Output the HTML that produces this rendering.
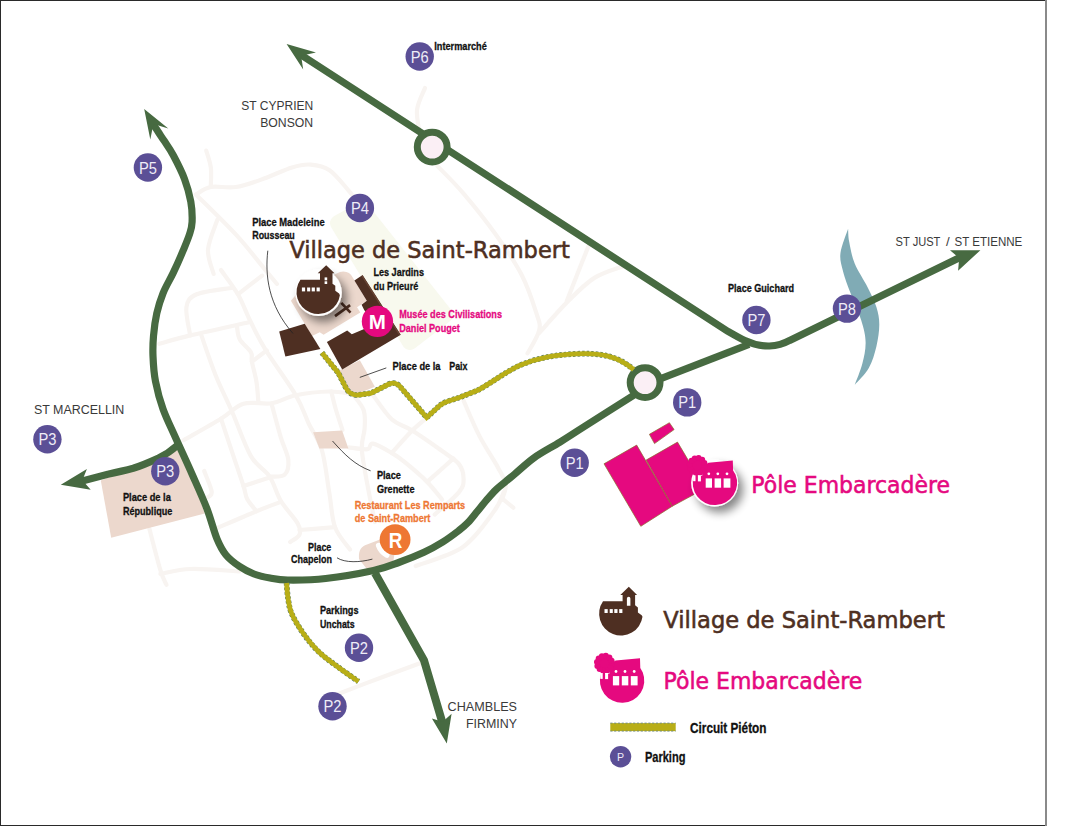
<!DOCTYPE html>
<html lang="fr"><head><meta charset="utf-8"><title>Plan Saint-Rambert</title>
<style>
html,body{margin:0;padding:0;background:#fff;}
svg{display:block;}
text{font-family:"Liberation Sans",sans-serif;}
.cb{font-weight:bold;stroke-width:0.3px;}
.lt{}
.hw{font-family:"DejaVu Sans","Liberation Sans",sans-serif;stroke-width:0.55px;}
.pl{fill:#efecf7;font-size:17px;text-anchor:middle;}
</style></head><body>
<svg width="1070" height="826" viewBox="0 0 1070 826">
<rect x="0" y="0" width="1070" height="826" fill="#fff"/>
<polygon points="338,223 362,210 445,315 410,342" fill="#f8f9ee" stroke="#f8f9ee" stroke-width="16" stroke-linejoin="round"/>
<path d="M206.2,150.6 C207.0,153.4 210.0,161.5 210.8,167.4 C211.6,173.3 210.8,183.0 210.8,186.1" fill="none" stroke="#f8f4f1" stroke-width="4.2" stroke-linecap="round"/>
<path d="M195.9,194.5 C198.4,193.2 204.1,188.2 210.8,187.0 C217.5,185.8 227.1,188.4 236.0,187.0 C244.9,185.6 254.7,181.9 264.0,178.6 C273.3,175.3 284.2,169.7 292.0,167.4 C299.8,165.1 304.6,164.1 310.8,164.6 C317.1,165.1 323.3,166.0 329.5,170.2 C335.7,174.4 343.6,184.8 348.0,189.8 C352.4,194.8 354.7,198.3 356.0,200.0" fill="none" stroke="#f8f4f1" stroke-width="4.2" stroke-linecap="round"/>
<path d="M195.9,194.5 C202.6,201.2 224.7,222.4 236.0,234.7 C247.3,247.0 257.2,260.1 264.0,268.3 C270.8,276.5 274.8,281.4 277.0,284.0" fill="none" stroke="#f8f4f1" stroke-width="4.2" stroke-linecap="round"/>
<path d="M217.4,219.7 C215.8,224.7 208.6,240.6 208.0,249.6 C207.4,258.6 212.7,269.8 213.6,273.9" fill="none" stroke="#f8f4f1" stroke-width="4.2" stroke-linecap="round"/>
<path d="M221.0,270.0 C223.8,274.1 232.9,285.6 237.9,294.3 C242.9,303.0 246.2,313.0 250.9,322.3 C255.6,331.6 258.4,338.2 265.9,350.4 C273.4,362.5 288.6,382.9 295.8,395.2 C303.0,407.5 304.5,414.8 308.9,424.0 C313.3,433.2 318.6,438.9 322.0,450.5 C325.4,462.1 327.2,480.7 329.4,493.5 C331.6,506.3 331.6,517.8 335.0,527.1 C338.4,536.4 347.5,545.8 350.0,549.5" fill="none" stroke="#f8f4f1" stroke-width="4.2" stroke-linecap="round"/>
<path d="M237.9,294.3 C241.9,291.2 258.1,278.7 262.1,275.6" fill="none" stroke="#f8f4f1" stroke-width="4.2" stroke-linecap="round"/>
<path d="M232.2,287.8 C226.3,288.9 204.3,291.0 196.7,294.3 C189.1,297.6 187.5,300.5 186.4,307.4 C185.3,314.2 189.6,330.7 190.2,335.4" fill="none" stroke="#f8f4f1" stroke-width="4.2" stroke-linecap="round"/>
<path d="M159.3,343.8 C164.5,342.4 175.2,339.0 190.2,335.4 C205.2,331.8 239.3,324.5 249.1,322.3" fill="none" stroke="#f8f4f1" stroke-width="4.2" stroke-linecap="round"/>
<path d="M201.4,335.4 C203.7,341.9 210.3,361.9 215.4,374.7 C220.5,387.5 226.3,398.4 232.2,412.0 C238.1,425.6 244.7,445.3 250.9,456.1 C257.1,466.9 264.6,469.1 269.6,476.6 C274.6,484.1 276.1,493.1 280.8,500.9 C285.5,508.7 294.6,517.8 297.7,523.4 C300.8,529.0 300.8,531.5 299.5,534.6 C298.2,537.7 291.8,540.8 290.2,542.0" fill="none" stroke="#f8f4f1" stroke-width="4.2" stroke-linecap="round"/>
<path d="M236.9,326.1 C237.4,328.3 237.4,334.9 239.7,339.2 C242.0,343.5 248.9,348.5 250.9,352.2 C252.9,355.9 251.0,356.6 251.9,361.6 C252.8,366.6 255.4,375.2 256.5,382.1 C257.6,389.0 258.1,399.3 258.4,402.7" fill="none" stroke="#f8f4f1" stroke-width="4.2" stroke-linecap="round"/>
<path d="M251.9,361.6 C254.4,359.7 264.3,352.3 266.8,350.4" fill="none" stroke="#f8f4f1" stroke-width="4.2" stroke-linecap="round"/>
<path d="M183.6,440.2 C189.8,436.6 211.0,424.8 221.0,418.7 C231.0,412.6 235.1,406.3 243.5,403.7 C251.9,401.1 262.8,404.7 271.5,403.3 C280.2,401.9 286.2,397.2 295.8,395.2 C305.4,393.2 320.0,391.7 329.4,391.5 C338.8,391.3 348.6,393.6 352.4,394.0" fill="none" stroke="#f8f4f1" stroke-width="4.2" stroke-linecap="round"/>
<path d="M271.5,403.7 C273.1,409.3 278.0,428.0 280.8,437.4 C283.6,446.8 287.7,453.6 288.3,459.8 C288.9,466.0 287.7,472.0 284.6,474.8 C281.5,477.6 272.1,476.3 269.6,476.6" fill="none" stroke="#f8f4f1" stroke-width="4.2" stroke-linecap="round"/>
<path d="M221.0,418.7 C222.9,424.3 228.4,441.1 232.2,452.3 C235.9,463.5 241.0,478.2 243.5,486.0 C246.0,493.8 245.0,494.8 247.2,499.0 C249.4,503.2 254.9,509.2 256.5,511.2" fill="none" stroke="#f8f4f1" stroke-width="4.2" stroke-linecap="round"/>
<path d="M243.5,486.0 C247.8,484.6 265.2,479.0 269.6,477.6" fill="none" stroke="#f8f4f1" stroke-width="4.2" stroke-linecap="round"/>
<path d="M217.3,528.0 C223.8,525.2 245.9,515.5 256.5,511.2 C267.1,506.8 276.8,503.4 280.8,501.9" fill="none" stroke="#f8f4f1" stroke-width="4.2" stroke-linecap="round"/>
<path d="M204.2,471.0 C205.4,474.4 211.1,487.2 211.7,491.6 C212.3,496.0 208.6,496.3 208.0,497.2" fill="none" stroke="#f8f4f1" stroke-width="4.2" stroke-linecap="round"/>
<path d="M331.3,391.5 C332.1,394.6 334.1,403.6 336.0,410.0 C337.9,416.4 341.4,426.7 342.5,430.0" fill="none" stroke="#f8f4f1" stroke-width="4.2" stroke-linecap="round"/>
<path d="M299.5,530.0 C305.4,529.5 329.1,527.6 335.0,527.1" fill="none" stroke="#f8f4f1" stroke-width="4.2" stroke-linecap="round"/>
<path d="M352.4,394.0 C354.3,396.7 361.6,404.2 363.6,410.0 C365.6,415.8 364.9,422.1 364.6,428.6 C364.3,435.1 361.3,439.9 361.8,449.2 C362.3,458.5 365.2,472.6 367.4,484.7 C369.6,496.8 373.6,515.8 374.9,522.0" fill="none" stroke="#f8f4f1" stroke-width="4.2" stroke-linecap="round"/>
<path d="M373.0,395.0 C376.1,399.1 385.2,413.4 391.7,419.3 C398.2,425.2 403.8,425.2 412.2,430.5 C420.6,435.8 434.3,445.4 442.1,451.0 C449.9,456.6 455.4,459.4 459.0,464.1 C462.6,468.8 463.6,474.4 463.6,479.1 C463.6,483.8 463.8,486.2 459.0,492.1 C454.2,498.0 438.8,510.9 434.7,514.6" fill="none" stroke="#f8f4f1" stroke-width="4.2" stroke-linecap="round"/>
<path d="M427.2,417.4 C424.7,419.6 418.1,424.6 412.2,430.5 C406.3,436.4 395.1,449.2 391.7,452.9" fill="none" stroke="#f8f4f1" stroke-width="4.2" stroke-linecap="round"/>
<path d="M348.7,447.3 C351.8,447.6 363.3,449.8 367.4,449.2 C371.4,448.6 368.9,443.0 373.0,443.6 C377.1,444.2 386.4,449.8 391.7,452.9 C397.0,456.0 398.9,457.4 404.8,462.2 C410.7,467.0 421.0,475.7 427.2,481.9 C433.4,488.1 439.6,496.7 442.1,499.6" fill="none" stroke="#f8f4f1" stroke-width="4.2" stroke-linecap="round"/>
<path d="M427.2,481.9 C431.6,478.0 449.0,462.4 453.4,458.5" fill="none" stroke="#f8f4f1" stroke-width="4.2" stroke-linecap="round"/>
<path d="M463.6,400.6 C466.2,406.5 473.7,424.9 479.5,436.1 C485.3,447.3 493.8,459.8 498.2,467.9 C502.6,476.0 505.1,479.4 505.7,484.7 C506.3,490.0 502.6,497.1 502.0,499.6" fill="none" stroke="#f8f4f1" stroke-width="4.2" stroke-linecap="round"/>
<path d="M503.8,499.8 C505.4,501.1 511.7,506.4 513.3,507.7" fill="none" stroke="#f8f4f1" stroke-width="4.2" stroke-linecap="round"/>
<path d="M415.7,566.0 C423.6,562.8 449.8,556.2 462.9,547.0 C476.0,537.8 487.6,520.0 494.4,510.8 C501.2,501.6 502.2,495.0 503.8,491.9" fill="none" stroke="#f8f4f1" stroke-width="4.2" stroke-linecap="round"/>
<path d="M149.4,528.9 C151.2,535.8 157.6,560.9 160.4,570.2 C163.2,579.5 165.5,582.4 166.5,584.8" fill="none" stroke="#f8f4f1" stroke-width="4.2" stroke-linecap="round"/>
<path d="M160.4,573.8 C165.5,573.0 177.6,569.4 190.8,569.0 C204.0,568.6 231.3,571.0 239.4,571.4" fill="none" stroke="#f8f4f1" stroke-width="4.2" stroke-linecap="round"/>
<path d="M425.0,88.0 C423.7,91.7 417.8,102.2 417.0,110.0 C416.2,117.8 419.5,130.8 420.0,135.0" fill="none" stroke="#f8f4f1" stroke-width="4.2" stroke-linecap="round"/>
<path d="M437.4,166.0 C441.8,170.6 453.9,182.2 463.6,193.6 C473.3,205.0 485.9,220.7 495.6,234.3 C505.3,247.9 514.9,261.9 521.7,275.0 C528.5,288.1 533.3,303.5 536.2,312.7 C539.1,321.9 540.7,323.4 539.2,330.2 C537.8,337.0 529.5,349.5 527.5,353.4" fill="none" stroke="#f8f4f1" stroke-width="4.2" stroke-linecap="round"/>
<path d="M539.2,333.0 C544.0,327.7 559.0,310.3 568.2,301.1 C577.4,291.9 585.2,283.7 594.4,277.9 C603.6,272.1 618.6,268.1 623.4,266.2" fill="none" stroke="#f8f4f1" stroke-width="4.2" stroke-linecap="round"/>
<path d="M566.8,301.1 C568.5,296.8 573.4,284.2 577.0,275.0 C580.6,265.8 586.7,250.8 588.6,245.9" fill="none" stroke="#f8f4f1" stroke-width="4.2" stroke-linecap="round"/>
<path d="M338.0,694.0 C345.0,691.3 366.0,683.2 380.0,678.0 C394.0,672.8 415.0,665.1 422.0,662.5" fill="none" stroke="#f8f4f1" stroke-width="4.2" stroke-linecap="round"/>
<polygon points="100.8,480.5 181.0,447.0 204.8,513.4 111.2,537.8" fill="#ecd8cd"/>
<polygon points="313.1,432.2 342.1,430.4 348.4,448.6 319.4,448.6" fill="#ecd8cd"/>
<path d="M359,559 C358.3,549.5 361.5,546.5 367,544.5 L380,539.5 L396,545 L393,563 L368,570.5 Z" fill="#ecd8cd"/>
<path d="M378.6,545.6 A17.6,17.6 0 0 0 386.8,555.1" fill="none" stroke="#fff" stroke-width="5.4" stroke-linecap="round"/>
<path d="M290.9,300.8 L300,290 L340,272 Q349,270 353,278 L366.8,300.8 L357,307.3 L360.3,312.6 L323.6,334.8 L319.7,332.2 L312,336 Z" fill="#ecd8cd"/>
<polygon points="337.0,371.6 359.8,360.3 374.9,386.8 352.0,396.0" fill="#ecd8cd"/>
<polygon points="279.2,331.5 304.7,323.7 320.4,348.9 285.4,356.4" fill="#4e2f22"/>
<polygon points="326.9,342.0 347.2,330.6 351.8,334.2 364.2,328.9 370.0,326.0 370.0,318.0 364.2,310.0 361.6,304.7 366.8,300.8 354.4,280.5 362.6,274.9 400.8,334.8 342.2,369.5" fill="#4e2f22"/>
<path d="M362.1,275.9 L399.7,334.9" stroke="#684433" stroke-width="1.3" fill="none"/>
<path d="M335,316.2 L350.1,305.1 M341.3,302.8 L350.5,312.6" stroke="#4e2f22" stroke-width="2.7" fill="none"/>
<path d="M848.1,228.7 C846.8,232.7 841.4,245.8 840.5,252.7 C839.6,259.6 841.2,263.9 842.7,270.1 C844.2,276.3 846.1,281.4 849.2,289.7 C852.3,298.0 858.5,311.5 861.2,320.2 C863.9,328.9 865.4,334.7 865.6,342.0 C865.8,349.3 864.1,356.7 862.3,363.8 C860.5,370.9 856.0,381.4 854.7,384.9 L854.7,384.9 C857.1,382.1 865.2,374.5 868.8,368.1 C872.4,361.7 874.6,353.6 876.4,346.4 C878.1,339.1 879.3,331.2 879.3,324.6 C879.3,318.1 878.3,313.3 876.4,307.1 C874.5,300.9 871.3,294.8 867.7,287.5 C864.1,280.2 857.8,271.2 854.7,263.6 C851.6,256.0 850.3,247.6 849.2,241.8 C848.1,236.0 848.3,230.9 848.1,228.7 Z" fill="#80abb5"/>
<path d="M152.9,123.7 C153.4,124.6 154.3,126.0 156.2,128.8 C158.0,131.6 161.1,136.2 164.0,140.6 C166.9,145.0 170.0,149.1 173.4,155.5 C176.8,161.9 181.6,171.2 184.5,178.9 C187.4,186.6 189.5,194.4 190.8,201.6 C192.1,208.8 192.3,216.4 192.1,221.8 C191.9,227.2 191.1,229.3 189.6,234.0 C188.1,238.7 186.0,243.7 183.3,250.2 C180.6,256.7 176.6,265.8 173.2,272.9 C169.8,280.0 165.8,286.4 163.1,293.1 C160.4,299.8 158.4,306.2 156.8,313.3 C155.2,320.4 154.1,328.9 153.5,336.0 C152.9,343.1 152.7,348.6 153.0,356.2 C153.3,363.8 153.8,372.6 155.5,381.4 C157.2,390.2 159.7,399.8 163.1,409.2 C166.5,418.6 170.9,427.2 175.7,438.0 C180.5,448.8 186.8,462.2 192.0,474.0 C197.2,485.8 202.7,497.8 206.9,508.6 C211.1,519.4 213.8,531.2 217.0,538.9 C220.2,546.6 222.2,550.4 226.0,555.0 C229.8,559.6 235.0,563.4 239.7,566.6 C244.4,569.8 248.9,572.1 254.0,574.0 C259.1,575.9 264.4,577.0 270.0,578.0 C275.6,579.0 278.5,579.9 287.8,580.0 C297.1,580.1 311.4,580.1 325.7,578.5 C340.0,576.9 361.2,573.2 373.6,570.5 C386.0,567.8 391.6,565.0 400.0,562.0 C408.4,559.0 416.9,555.6 424.0,552.3 C431.1,549.0 437.0,545.6 442.8,542.0 C448.6,538.4 454.5,533.9 458.7,530.7 C462.9,527.5 464.9,525.8 468.0,522.6 C471.1,519.4 474.3,515.1 477.4,511.3 C480.5,507.5 483.6,503.5 486.7,499.9 C489.8,496.3 493.0,492.6 496.1,489.6 C499.2,486.6 502.3,484.3 505.4,481.7 C508.5,479.1 509.9,478.0 514.8,474.0 C519.6,470.0 527.0,462.8 534.5,457.5 C542.0,452.2 551.8,447.2 560.0,442.1 C568.2,437.0 571.7,434.6 584.0,426.8 C596.3,419.0 625.4,400.5 633.7,395.2" fill="none" stroke="#476a41" stroke-width="7.2"/>
<path d="M655,380.8 L749,344.3" fill="none" stroke="#476a41" stroke-width="7.2"/>
<path d="M300,54.2 L728,331.4 C736,336 741,338.8 744.9,340.6 C752,344 762,346.2 769.5,346 C778,345.6 785,343 789.7,340.4 L961,256.9" fill="none" stroke="#476a41" stroke-width="7.2"/>
<path d="M177.3,445.4 C170,452 165,455 158.6,458.1 C150,462 142,465.5 133.2,468.3 C125,470.5 116,472.5 107.8,474.2 L81.3,481.2" fill="none" stroke="#476a41" stroke-width="7.2"/>
<path d="M374.9,573 L424,660.3 L442.5,723" fill="none" stroke="#476a41" stroke-width="8"/>
<polygon points="144.2,109.1 168.3,128.5 153.4,124.0 150.3,139.5" fill="#476a41"/>
<polygon points="286.6,44.0 316.0,52.4 301.1,55.7 303.2,69.4" fill="#476a41"/>
<polygon points="60.8,484.7 86.9,469.1 82.4,480.2 90.7,489.8" fill="#476a41"/>
<polygon points="980.4,250.2 950.0,250.2 959.2,258.1 958.1,270.8" fill="#476a41"/>
<polygon points="446.8,743.4 431.9,718.4 442.7,721.8 451.6,713.8" fill="#476a41"/>
<circle cx="432.2" cy="147.1" r="14.9" fill="#fbeff5" stroke="#476a41" stroke-width="7"/>
<circle cx="645.1" cy="382.6" r="14.9" fill="#fbeff5" stroke="#476a41" stroke-width="7"/>
<path d="M321.9,352.7 L338.3,372.9 L346,388 Q350,395.5 358,395 L371.1,393.1 L389,384 Q395,381.5 399.5,386 L426.7,417.5 L440,405.3 Q443,402.8 448,401.2 L460,397.3 L477.1,390.6 C490,384 505,372 520,365.3 C540,357 556,355 575.7,353.9 C600,352.5 618,356 633.7,369.6" fill="none" stroke="#557a6c" stroke-width="5.7" stroke-dasharray="2.5 2"/>
<path d="M321.9,352.7 L338.3,372.9 L346,388 Q350,395.5 358,395 L371.1,393.1 L389,384 Q395,381.5 399.5,386 L426.7,417.5 L440,405.3 Q443,402.8 448,401.2 L460,397.3 L477.1,390.6 C490,384 505,372 520,365.3 C540,357 556,355 575.7,353.9 C600,352.5 618,356 633.7,369.6" fill="none" stroke="#b8ae17" stroke-width="4.8"/>
<path d="M286.6,583.0 C286.8,585.5 287.2,592.9 288.0,598.0 C288.8,603.1 289.1,607.6 291.6,613.4 C294.1,619.2 298.6,626.7 303.0,633.0 C307.4,639.3 312.3,645.5 318.1,651.2 C323.9,656.9 331.3,662.0 338.0,667.0 C344.7,672.0 355.1,679.1 358.5,681.5" fill="none" stroke="#557a6c" stroke-width="5.7" stroke-dasharray="2.5 2"/>
<path d="M286.6,583.0 C286.8,585.5 287.2,592.9 288.0,598.0 C288.8,603.1 289.1,607.6 291.6,613.4 C294.1,619.2 298.6,626.7 303.0,633.0 C307.4,639.3 312.3,645.5 318.1,651.2 C323.9,656.9 331.3,662.0 338.0,667.0 C344.7,672.0 355.1,679.1 358.5,681.5" fill="none" stroke="#b8ae17" stroke-width="4.8"/>
<polygon points="649.4,434.3 669.4,422.7 674.1,429.6 654.5,443.6" fill="#e5097f" stroke="#8b6b2b" stroke-width="0.7"/>
<polygon points="646.1,460.1 677.5,442.1 705.0,488.5 672.2,506.3" fill="#e5097f" stroke="#8b6b2b" stroke-width="0.7"/>
<polygon points="604.0,463.8 636.7,445.1 672.2,506.3 640.8,526.3" fill="#e5097f" stroke="#8b6b2b" stroke-width="0.7"/>
<circle cx="147.9" cy="167.5" r="14.2" fill="#5b4f96"/>
<text x="147.9" y="173.5" class="pl" textLength="18" lengthAdjust="spacingAndGlyphs">P5</text>
<circle cx="359.9" cy="208" r="14.2" fill="#5b4f96"/>
<text x="359.9" y="214" class="pl" textLength="18" lengthAdjust="spacingAndGlyphs">P4</text>
<circle cx="419.7" cy="56.5" r="14.2" fill="#5b4f96"/>
<text x="419.7" y="62.5" class="pl" textLength="18" lengthAdjust="spacingAndGlyphs">P6</text>
<circle cx="47.4" cy="439.2" r="14.2" fill="#5b4f96"/>
<text x="47.4" y="445.2" class="pl" textLength="18" lengthAdjust="spacingAndGlyphs">P3</text>
<circle cx="165.3" cy="471.3" r="14.2" fill="#5b4f96"/>
<text x="165.3" y="477.3" class="pl" textLength="18" lengthAdjust="spacingAndGlyphs">P3</text>
<circle cx="359" cy="647.7" r="14.2" fill="#5b4f96"/>
<text x="359" y="653.7" class="pl" textLength="18" lengthAdjust="spacingAndGlyphs">P2</text>
<circle cx="332.5" cy="706.2" r="14.2" fill="#5b4f96"/>
<text x="332.5" y="712.2" class="pl" textLength="18" lengthAdjust="spacingAndGlyphs">P2</text>
<circle cx="687.2" cy="402.4" r="14.2" fill="#5b4f96"/>
<text x="687.2" y="408.4" class="pl" textLength="18" lengthAdjust="spacingAndGlyphs">P1</text>
<circle cx="574.7" cy="462.8" r="14.2" fill="#5b4f96"/>
<text x="574.7" y="468.8" class="pl" textLength="18" lengthAdjust="spacingAndGlyphs">P1</text>
<circle cx="756.4" cy="320" r="14.2" fill="#5b4f96"/>
<text x="756.4" y="326" class="pl" textLength="18" lengthAdjust="spacingAndGlyphs">P7</text>
<circle cx="847" cy="308.6" r="14.2" fill="#5b4f96"/>
<text x="847" y="314.6" class="pl" textLength="18" lengthAdjust="spacingAndGlyphs">P8</text>
<circle cx="377.45" cy="321.4" r="15.65" fill="#e5097f"/>
<text x="377.4" y="328.8" text-anchor="middle" font-size="20.5" font-weight="bold" fill="#fff">M</text>
<circle cx="395.1" cy="539.6" r="15.4" fill="#ee7733"/>
<text x="395.5" y="547.6" text-anchor="middle" font-size="21.5" font-weight="bold" fill="#fff" textLength="13.6" lengthAdjust="spacingAndGlyphs">R</text>
<defs>
<filter id="sh" x="-40%" y="-40%" width="200%" height="200%"><feGaussianBlur in="SourceAlpha" stdDeviation="4.6"/><feOffset dx="4.5" dy="5.5"/><feComponentTransfer><feFuncA type="linear" slope="0.48"/></feComponentTransfer><feMerge><feMergeNode/><feMergeNode in="SourceGraphic"/></feMerge></filter>
<g id="vill">
<path d="M-17.9,-12.5 L1.7,-12.5 L1.7,-18.9 L-0.6,-18.9 L7.9,-27 L16.2,-18.9 L14.2,-18.9 L14.2,-8.5 L17,-6.4 L17,-1.4 L20.8,1.4 L21.6,3 A21.8,21.8 0 1 1 -17.9,-12.5 Z" fill="#4e2f22"/>
<g fill="#fff"><rect x="-16.4" y="-4.7" width="3.2" height="3.9"/><rect x="-11.2" y="-4.7" width="3.1" height="3.9"/><rect x="-6.6" y="-4.7" width="3.2" height="3.9"/><rect x="-1.7" y="-4.7" width="3.2" height="3.9"/></g>
</g>
<g id="pole">
<path d="M-21.1,-6.8 L-12.7,-6.8 L-12.7,-16 L-6.5,-20 L17.9,-22.3 L18.2,-12.4 L20.6,-8.2 A22.2,22.2 0 1 1 -21.1,-6.8 Z" fill="#e5097f"/>
<g fill="#e5097f"><circle cx="-17.6" cy="-17.2" r="8.6"/><circle cx="-10.1" cy="-15.9" r="3"/><circle cx="-11.8" cy="-12.3" r="3"/><circle cx="-15.0" cy="-10.1" r="3"/><circle cx="-18.9" cy="-9.7" r="3"/><circle cx="-22.5" cy="-11.4" r="3"/><circle cx="-24.7" cy="-14.6" r="3"/><circle cx="-25.1" cy="-18.5" r="3"/><circle cx="-23.4" cy="-22.1" r="3"/><circle cx="-20.2" cy="-24.3" r="3"/><circle cx="-16.3" cy="-24.7" r="3"/><circle cx="-12.7" cy="-23.0" r="3"/><circle cx="-10.5" cy="-19.8" r="3"/><rect x="-19.4" y="-10" width="2.4" height="5"/></g>
<g fill="#fff"><rect x="-21.8" y="-7.4" width="2.4" height="5.8"/><rect x="-17" y="-7.5" width="3" height="6.1"/><rect x="-9.2" y="-4.4" width="6.3" height="9.3"/><rect x="-0.3" y="-4.4" width="6.5" height="9.3"/><rect x="8.7" y="-4.4" width="6.8" height="9.3"/><circle cx="-6.1" cy="-9" r="1.4"/><circle cx="2.9" cy="-9" r="1.4"/><circle cx="12.1" cy="-9" r="1.4"/></g>
</g>
</defs>
<circle cx="318.5" cy="292.6" r="23.3" fill="#fff" filter="url(#sh)"/>
<use href="#vill" x="318.3" y="292.2"/>
<g fill="#fff"><rect x="324.6" y="277.4" width="2.6" height="2.9"/><rect x="324.6" y="281.3" width="2.6" height="2.7"/></g>
<circle cx="714.6" cy="483" r="23.5" fill="#fff" filter="url(#sh)"/>
<use href="#pole" x="714.9" y="482.8"/>
<text x="241.3" y="109.5" font-size="13.2" class="lt" textLength="72" lengthAdjust="spacingAndGlyphs" fill="#3a3a3a">ST CYPRIEN</text>
<text x="260.2" y="126.6" font-size="13.2" class="lt" textLength="53" lengthAdjust="spacingAndGlyphs" fill="#3a3a3a">BONSON</text>
<text x="34" y="414" font-size="13.2" class="lt" textLength="90.3" lengthAdjust="spacingAndGlyphs" fill="#3a3a3a">ST MARCELLIN</text>
<text x="447.6" y="710.5" font-size="13.2" class="lt" textLength="69.4" lengthAdjust="spacingAndGlyphs" fill="#3a3a3a">CHAMBLES</text>
<text x="466" y="727.6" font-size="13.2" class="lt" textLength="51" lengthAdjust="spacingAndGlyphs" fill="#3a3a3a">FIRMINY</text>
<text x="895.6" y="245.8" font-size="13.2" class="lt" textLength="44.8" lengthAdjust="spacingAndGlyphs" fill="#3a3a3a">ST JUST</text>
<text x="946" y="245.8" font-size="13.2" class="lt" fill="#3a3a3a">/</text>
<text x="954.5" y="245.8" font-size="13.2" class="lt" textLength="67.8" lengthAdjust="spacingAndGlyphs" fill="#3a3a3a">ST ETIENNE</text>
<text x="434.3" y="49.7" font-size="11.6" class="cb" textLength="52.5" lengthAdjust="spacingAndGlyphs" fill="#111" stroke="#111">Intermarché</text>
<text x="252.2" y="226.3" font-size="11.6" class="cb" textLength="72.4" lengthAdjust="spacingAndGlyphs" fill="#111" stroke="#111">Place Madeleine</text>
<text x="252.2" y="239" font-size="11.6" class="cb" textLength="42.6" lengthAdjust="spacingAndGlyphs" fill="#111" stroke="#111">Rousseau</text>
<text x="373.4" y="276.3" font-size="11.6" class="cb" textLength="50.6" lengthAdjust="spacingAndGlyphs" fill="#111" stroke="#111">Les Jardins</text>
<text x="373.4" y="290.3" font-size="11.6" class="cb" textLength="44.8" lengthAdjust="spacingAndGlyphs" fill="#111" stroke="#111">du Prieuré</text>
<text x="399.2" y="318.3" font-size="11.6" class="cb" textLength="102.8" lengthAdjust="spacingAndGlyphs" fill="#e5097f" stroke="#e5097f">Musée des Civilisations</text>
<text x="399.2" y="331.8" font-size="11.6" class="cb" textLength="60.7" lengthAdjust="spacingAndGlyphs" fill="#e5097f" stroke="#e5097f">Daniel Pouget</text>
<text x="392.6" y="370.4" font-size="11.6" class="cb" textLength="47.9" lengthAdjust="spacingAndGlyphs" fill="#111" stroke="#111">Place de la</text>
<text x="449.3" y="370.4" font-size="11.6" class="cb" textLength="18.2" lengthAdjust="spacingAndGlyphs" fill="#111" stroke="#111">Paix</text>
<text x="376.9" y="478.9" font-size="11.6" class="cb" textLength="24" lengthAdjust="spacingAndGlyphs" fill="#111" stroke="#111">Place</text>
<text x="376.9" y="492.8" font-size="11.6" class="cb" textLength="37.6" lengthAdjust="spacingAndGlyphs" fill="#111" stroke="#111">Grenette</text>
<text x="354.7" y="508.9" font-size="11.6" class="cb" textLength="110.5" lengthAdjust="spacingAndGlyphs" fill="#ee7733" stroke="#ee7733">Restaurant Les Remparts</text>
<text x="354.7" y="522.3" font-size="11.6" class="cb" textLength="75.7" lengthAdjust="spacingAndGlyphs" fill="#ee7733" stroke="#ee7733">de Saint-Rambert</text>
<text x="308" y="550.8" font-size="11.6" class="cb" textLength="23.3" lengthAdjust="spacingAndGlyphs" fill="#111" stroke="#111">Place</text>
<text x="291.1" y="562.9" font-size="11.6" class="cb" textLength="40.9" lengthAdjust="spacingAndGlyphs" fill="#111" stroke="#111">Chapelon</text>
<text x="319.9" y="613.9" font-size="11.6" class="cb" textLength="38.6" lengthAdjust="spacingAndGlyphs" fill="#111" stroke="#111">Parkings</text>
<text x="319.9" y="627.7" font-size="11.6" class="cb" textLength="34.8" lengthAdjust="spacingAndGlyphs" fill="#111" stroke="#111">Unchats</text>
<text x="122.9" y="501" font-size="11.6" class="cb" textLength="47.9" lengthAdjust="spacingAndGlyphs" fill="#111" stroke="#111">Place de la</text>
<text x="122.9" y="515" font-size="11.6" class="cb" textLength="49.4" lengthAdjust="spacingAndGlyphs" fill="#111" stroke="#111">République</text>
<text x="728" y="291.5" font-size="11.6" class="cb" textLength="66.1" lengthAdjust="spacingAndGlyphs" fill="#111" stroke="#111">Place Guichard</text>
<text x="289.4" y="257.6" font-size="22.3" class="hw" textLength="280.4" lengthAdjust="spacingAndGlyphs" fill="#4e2f22" stroke="#4e2f22">Village de Saint-Rambert</text>
<text x="751.3" y="493.2" font-size="22.3" class="hw" textLength="198.8" lengthAdjust="spacingAndGlyphs" fill="#e5097f" stroke="#e5097f">Pôle Embarcadère</text>
<path d="M267.8,250.7 C265,275 268,305 293,333.5" fill="none" stroke="#222" stroke-width="0.8"/>
<path d="M359.8,377.4 L386.3,367.9" fill="none" stroke="#222" stroke-width="0.8"/>
<path d="M332.5,441 C345,455 355,465 370.6,470.8" fill="none" stroke="#222" stroke-width="0.8"/>
<path d="M337,557.8 C345,563 360,562.5 372.4,559.1" fill="none" stroke="#222" stroke-width="0.8"/>
<use href="#vill" x="620.9" y="613.8"/>
<path d="M626.9,605.7 V598.6 a1.75,1.9 0 0 1 3.5,0 V605.7 Z" fill="#fff"/>
<use href="#pole" x="622.1" y="680.5"/>
<text x="663.3" y="627.5" font-size="22.3" class="hw" textLength="281.5" lengthAdjust="spacingAndGlyphs" fill="#4e2f22" stroke="#4e2f22">Village de Saint-Rambert</text>
<text x="663.5" y="689.4" font-size="22.3" class="hw" textLength="198.8" lengthAdjust="spacingAndGlyphs" fill="#e5097f" stroke="#e5097f">Pôle Embarcadère</text>
<rect x="610.3" y="723.1" width="65.4" height="8" fill="#b8ae17"/>
<path d="M610.3,723.1 H675.7 M610.3,731.1 H675.7" stroke="#5f7f86" stroke-width="0.8" stroke-dasharray="2.2 1.6" fill="none"/>
<text x="690.1" y="733.3" font-size="14.6" class="cb" textLength="76.3" lengthAdjust="spacingAndGlyphs" fill="#111" stroke="#111">Circuit Piéton</text>
<circle cx="620.6" cy="756.7" r="10.7" fill="#5b4f96"/>
<text x="620.6" y="760.6" font-size="10.6" fill="#efecf7" text-anchor="middle">P</text>
<text x="644.9" y="761.5" font-size="14.4" class="cb" textLength="40.5" lengthAdjust="spacingAndGlyphs" fill="#111" stroke="#111">Parking</text>
<rect x="0" y="0" width="1046" height="1" fill="#2a2a2a"/>
<rect x="0" y="0" width="1" height="826" fill="#2a2a2a"/>
<rect x="0" y="825" width="1046" height="1" fill="#2a2a2a"/>
<rect x="1045" y="0" width="2" height="826" fill="#8a8a8a"/>
</svg>
</body></html>
